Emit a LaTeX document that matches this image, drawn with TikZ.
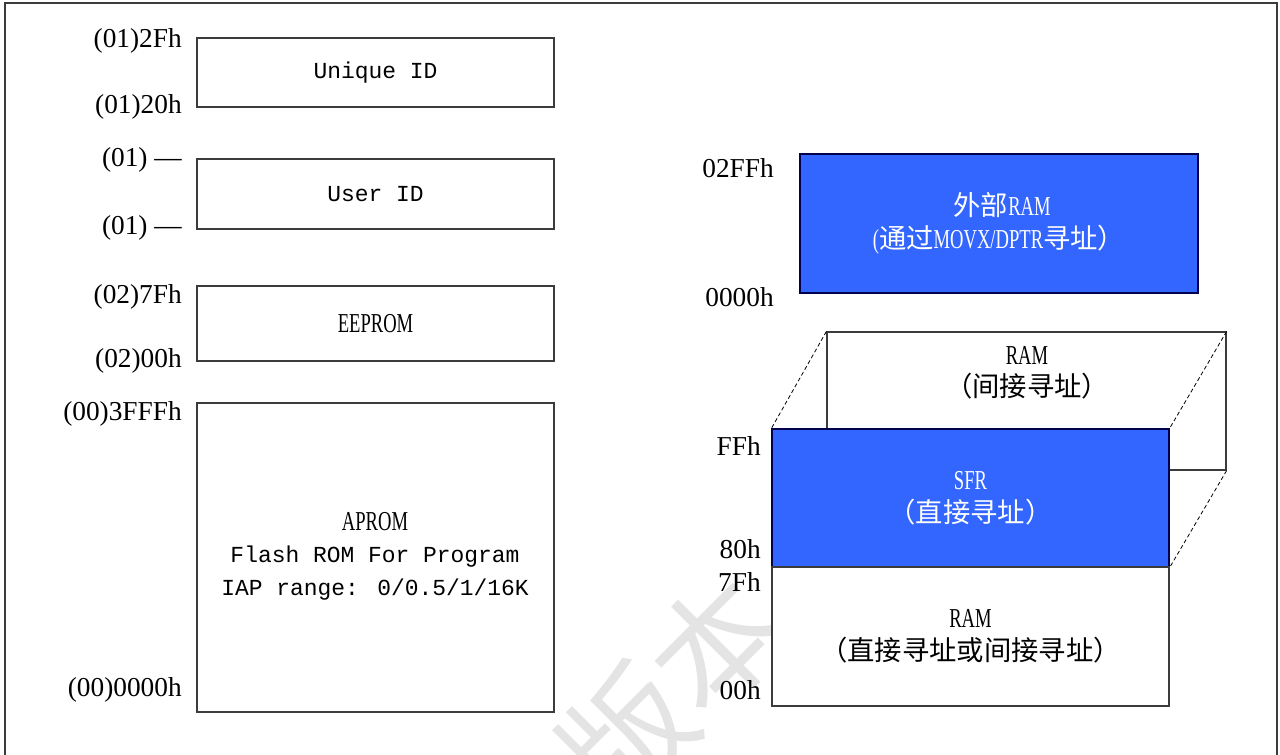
\documentclass[tikz,border=0pt]{standalone}
\usepackage{fontspec}
\setmainfont{Liberation Serif}
\newfontfamily\cjk{Noto Sans CJK SC}
\newfontfamily\nar[FakeStretch=0.68]{Liberation Serif}
\newfontfamily\mono{Liberation Mono}
\definecolor{memblue}{RGB}{51,102,255}
\definecolor{lgray}{RGB}{60,60,60}
\definecolor{wmark}{RGB}{228,228,228}
\begin{document}
\begin{tikzpicture}[x=0.75pt,y=0.75pt,
  box/.style={draw=lgray, line width=0.9pt, inner sep=0pt, fill=white, align=center},
  bluebox/.style={box, fill=memblue, draw=black!70!blue, text=white},
  addr/.style={anchor=east, inner sep=0pt, font=\fontsize{20.5}{24}\selectfont},
  boxtxt/.style={font=\fontsize{20.5}{24.4}\selectfont},
  monotxt/.style={font=\fontsize{17.2}{24.4}\mono},
  dsh/.style={dashed, line width=0.6pt, dash pattern=on 3pt off 2pt}]
\useasboundingbox (0,0) rectangle (1280,-755);
\begin{scope}
\clip (0,0) rectangle (1280,-755);
% frame
\draw[lgray, line width=0.9pt] (5,-3) rectangle (1277,-762);
% watermark
\node[wmark, rotate=45, font=\fontsize{95}{100}\cjk] (wm) at (672,-690) {版本};
\end{scope}
% left column
\node[box, minimum width=357*0.75pt, minimum height=69*0.75pt, monotxt] (uid) at (375.5,-72.5) {Unique ID};
\node[box, minimum width=357*0.75pt, minimum height=70*0.75pt, monotxt] (usr) at (375.5,-194) {User ID};
\node[box, minimum width=357*0.75pt, minimum height=75*0.75pt, boxtxt] (eep) at (375.5,-323.5) {\nar EEPROM};
\node[box, minimum width=357*0.75pt, minimum height=309*0.75pt] (aprom) at (375.5,-557.5) {};
\node[align=center, inner sep=0pt, font=\fontsize{17.2}{24.4}\selectfont] (aptxt) at (375,-556) {{\nar\fontsize{20.5}{24.4}\selectfont APROM}\\{\mono Flash ROM For Program}\\{\mono IAP range: 0/0.5/1/16K}};
\node[addr] (a1) at (182,-41) {(01)2Fh};
\node[addr] (a2) at (182,-107) {(01)20h};
\node[addr] (a3) at (182,-160) {(01) —};
\node[addr] (a4) at (182,-228) {(01) —};
\node[addr] (a5) at (182,-297) {(02)7Fh};
\node[addr] (a6) at (182,-361) {(02)00h};
\node[addr] (a7) at (182,-414) {(00)3FFFh};
\node[addr] (a8) at (182,-690) {(00)0000h};
% right column
\node[bluebox, minimum width=398*0.75pt, minimum height=139*0.75pt, boxtxt] (xram) at (999,-223.5) {{\nar\hphantom{(}}{\cjk 外部}{\nar RAM}\\{\nar(}{\cjk 通过}{\nar MOVX/DPTR}{\cjk 寻址）}};
\node[box, minimum width=399*0.75pt, minimum height=138*0.75pt, boxtxt] (iram) at (1026.5,-401) {};
\node[boxtxt, inner sep=0pt, align=center] (iramtxt) at (1027,-373) {{\nar RAM}\\{\cjk （间接寻址）}};
\node[bluebox, minimum width=397*0.75pt, minimum height=138*0.75pt, boxtxt] (sfr) at (970.5,-498) {{\nar SFR}\\{\cjk （直接寻址）}};
\node[box, minimum width=397*0.75pt, minimum height=139*0.75pt, boxtxt] (dram) at (970.5,-636.5) {{\nar RAM}\\{\cjk （直接寻址或间接寻址）}};
\draw[dsh] (iram.north west) -- (sfr.north west);
\draw[dsh] (iram.north east) -- (sfr.north east);
\draw[dsh] (iram.south east) -- (sfr.south east);
\node[addr] (b1) at (774,-168) {02FFh};
\node[addr] (b2) at (774,-297) {0000h};
\node[addr] (b3) at (761,-446) {FFh};
\node[addr] (b4) at (761,-549) {80h};
\node[addr] (b5) at (761,-582) {7Fh};
\node[addr] (b6) at (761,-690) {00h};
\end{tikzpicture}
\end{document}
